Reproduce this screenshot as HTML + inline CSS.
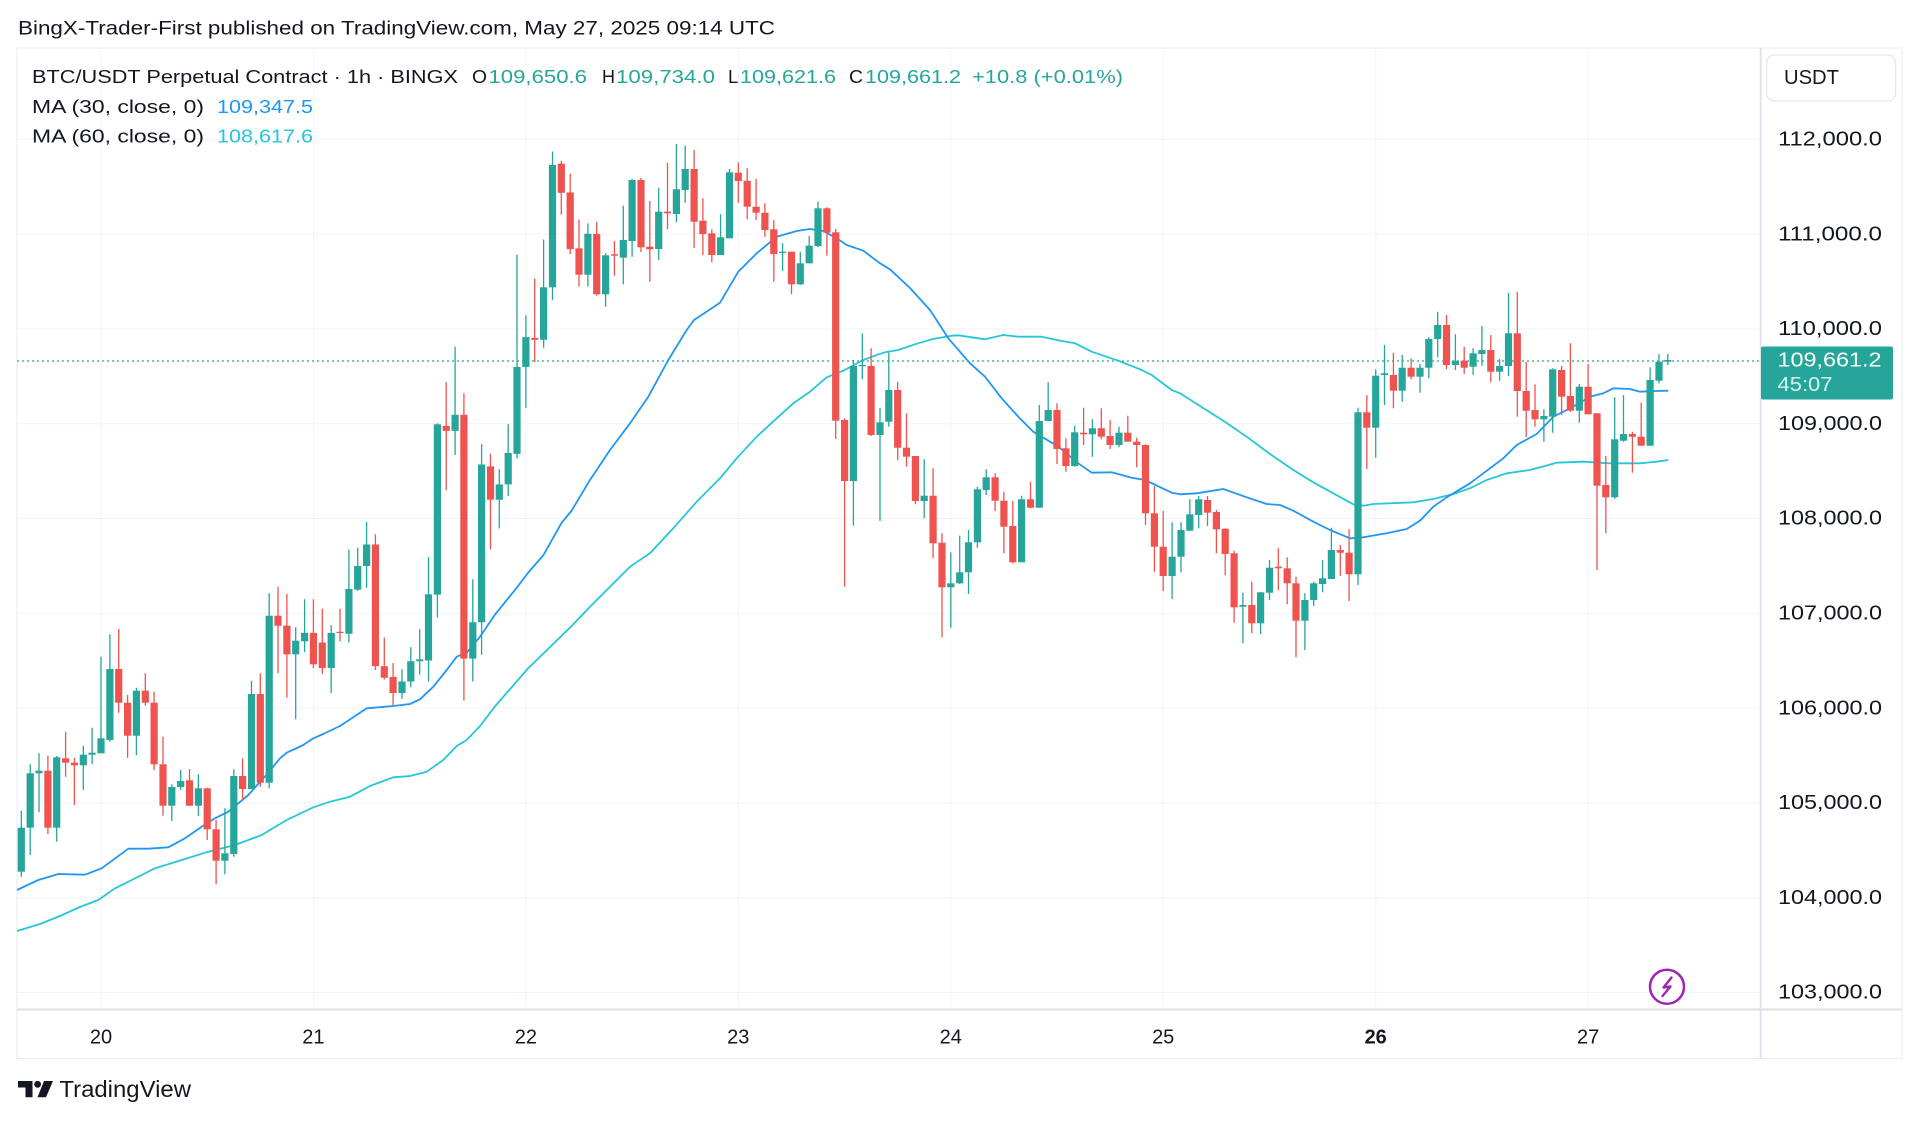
<!DOCTYPE html>
<html><head><meta charset="utf-8"><style>
html,body{margin:0;padding:0;background:#fff;}
svg{display:block;font-family:"Liberation Sans",Arial,sans-serif;}
</style></head><body>
<svg width="1920" height="1121" viewBox="0 0 1920 1121" xmlns="http://www.w3.org/2000/svg">
<rect width="1920" height="1121" fill="#fff"/>
<text x="18" y="34.3" font-size="19" fill="#131722" textLength="757" lengthAdjust="spacingAndGlyphs">BingX-Trader-First published on TradingView.com, May 27, 2025 09:14 UTC</text>
<g stroke="#f0f3fa" stroke-width="1">
<path d="M17 139.3H1760M17 234.1H1760M17 328.9H1760M17 423.7H1760M17 518.5H1760M17 613.3H1760M17 707.9H1760M17 802.9H1760M17 897.7H1760M17 992.5H1760"/>
<path d="M101 48V1009M313.4 48V1009M525.9 48V1009M738.3 48V1009M950.8 48V1009M1163.2 48V1009M1375.7 48V1009M1588.1 48V1009"/>
</g>
<rect x="17" y="48" width="1885" height="1010.5" fill="none" stroke="#e9ebf0" stroke-width="1"/>
<path d="M17 1009.5H1902" stroke="#dcdfe6" stroke-width="2"/>
<path d="M1760.7 48V1058.5" stroke="#e0e3eb" stroke-width="2"/>
<path d="M17 361H1760" stroke="#26a69a" stroke-width="1.3" stroke-dasharray="2 3"/>
<polyline fill="none" stroke="#26c6da" stroke-width="1.8" stroke-linejoin="round" points="17,931 40,924 60,916 80,907 98.3,900 115,888.3 131.7,880 155,868.3 181.7,860 208.3,851.7 235,845 261.7,835 286.7,820 313.3,807.3 330,801.7 350,796.7 370,786 393.3,777.3 410,776 426.7,771.7 443.3,760 456.7,746 466.7,740 480,726 495,706.4 528.3,668.1 571.7,626 590,606.7 610,586.7 630,566.7 650,553.3 673.3,528.3 696.7,501.7 720,478.3 736.7,458.3 756.7,436.7 776.7,418.3 793.3,403.3 810,391.7 826.7,377.3 843.3,370.7 863.3,360 876.7,355 885,352.3 898.3,350 915,344.3 931.7,339.3 951.7,335.7 958.3,335.3 985,339.3 1003.3,335 1018.3,336.7 1041.7,336.7 1061.7,341 1075,343.3 1091.7,351.7 1118.3,360.7 1141.7,370 1151.7,375 1171.7,390 1180,393.3 1200,406 1223.3,420.7 1246.7,436.7 1270,454 1293.3,470 1313.3,482.3 1333.3,493.3 1353.3,504.3 1363.3,505.7 1373.3,504 1413.3,502.3 1433.3,499 1453.3,494 1470,488.3 1486.7,480 1506.7,473.3 1530,470 1556.7,462.7 1583.3,461.7 1610,463.3 1640,463.3 1656.7,461.7 1668.3,460"/>
<polyline fill="none" stroke="#2196f3" stroke-width="1.8" stroke-linejoin="round" points="17,890 38.3,880 58.3,874 85,874.7 101.7,868.3 128.3,848.7 148.3,848.7 168.3,847.3 185,838.3 201.7,826.7 215,818.3 228.3,811.7 248.3,795 268.3,772.7 280,758.3 286.7,752.7 303.3,745 313.3,738.3 323.3,734 340,726 353.3,717.3 366.7,708.3 393.3,706 410,704 420,699.3 433.3,686.7 446.7,670 456.7,656.7 466.7,652.7 480,636.7 495,614.6 516.7,587.8 528.3,572.5 543.3,555.3 561.7,522.7 571.7,510.5 585,488.3 590,480 610,450 630,423.3 648.3,396.7 668.3,360 686.7,330 694,320 720,302.7 738.3,271.7 756.7,253.3 776.7,236.7 796.7,231 810,229 823.3,231 836.7,238.3 846.7,245 863.3,250.7 880,263.3 890,269.3 910,288 930,310 948.3,338.3 970,363.3 985,376.7 1001.7,398.3 1018.3,416.7 1033.3,431.7 1058.3,446.7 1078.3,463.3 1091.7,472.7 1111.7,472.3 1131.7,477.7 1145,480 1171.7,492.7 1180,494.3 1196.7,493.3 1223.3,489 1246.7,497.3 1266.7,504 1280,505 1293.3,510.7 1313.3,521.7 1330,530 1350,538.3 1363.3,537.3 1386.7,533.3 1406.7,529 1420,520.7 1433.3,506.7 1446.7,497.3 1470,483.3 1490,468.3 1503.3,458.3 1516.7,445 1536.7,434 1553.3,416.7 1566.7,410 1580,402.7 1590,396.7 1603.3,393.3 1613.3,388.3 1630,389 1640,391.7 1656.7,391 1668.3,390.7"/>
<path fill="none" stroke="#26a69a" stroke-width="1.3" d="M21.3 810.7V876.7M30.2 764.3V855M39 753.3V812.3M56.7 756V841.7M83.3 745.7V790M92.1 727.7V764M101 656.7V753.3M109.9 634.3V741.7M136.4 687.7V755M171.8 784.3V821M180.7 770V790M198.4 774.3V815.7M224.9 808.3V874.3M233.8 769.3V856.7M251.5 680.7V789M269.2 593.3V788.3M295.7 627.3V719.3M304.6 599.2V652.1M331.2 625.3V693M348.9 549.5V642.5M357.7 547.6V590.8M366.6 521.9V587.8M402 669.3V698.7M410.8 647.1V687.3M419.7 629.1V674.6M428.5 557.1V681.5M437.4 423.2V617.6M455.1 346.7V455M472.8 579.3V681.5M481.6 444.2V654.7M499.3 469.1V528.4M508.2 424.3V495.9M517 254.8V458.4M525.9 315.3V407.9M543.6 239.5V347.8M552.5 151.5V300M587.9 223.4V286.6M605.6 253.3V306.7M623.3 205.7V284.3M632.1 179V256.7M658.7 187.7V260M676.4 144V222.3M685.2 145.7V202.7M720.6 214.3V255M729.5 169V238.3M782.6 243.3V271M800.3 251.7V285M809.2 236V263.3M818 201.7V247.3M853.4 360V525.7M862.3 333.3V379.3M880 407.7V521M888.8 352.7V426.7M924.2 459.3V518.3M950.8 552.3V627.7M959.7 535.7V584M968.5 530V594M977.4 486.7V547.7M986.2 469.3V495M1021.6 495.7V562.3M1039.3 405V507.7M1048.2 382.3V421M1074.7 425.7V466.7M1092.4 419.3V456.7M1119 426.7V447.3M1172.1 522.3V599M1181 522.3V572.3M1189.8 499.3V530.7M1198.7 496V528.3M1242.9 592.7V643.3M1260.6 592.3V634M1269.5 560V600M1304.9 593.3V650M1313.7 581.7V606M1322.6 560V592.3M1331.4 527.7V579M1358 407.7V585M1375.7 369.3V457.7M1384.5 345V405M1402.2 355V401.7M1420 364V392.7M1428.8 337.3V378.3M1437.7 311.7V357.3M1455.4 334.3V370M1473.1 348.3V375M1481.9 326V365.7M1499.6 359V380.7M1508.5 292.7V376M1543.9 409.3V441.7M1552.7 368.3V432.7M1579.3 384V422.7M1614.7 397.3V499M1623.5 395V441.7M1650.1 367.3V445.7M1659 354V383.3M1667.8 354V365"/>
<path fill="none" stroke="#ef5350" stroke-width="1.3" d="M47.9 755.7V834.3M65.6 731.7V776.7M74.4 757.7V805M118.7 629V712.7M127.6 695V757.7M145.3 673.3V705.7M154.1 691.7V770M163 736.7V815.7M189.5 769V805.7M207.2 787.7V840M216.1 820V884.3M242.6 758.3V800M260.3 673.3V786.7M278 586.7V673.3M286.9 594V697.7M313.4 599.2V668.1M322.3 608.8V673.9M340 608.8V641.3M375.4 534.2V670M384.3 637.5V679.6M393.1 663.1V705.6M446.2 382.2V490.2M463.9 393.3V700.6M490.5 453.8V549.5M534.7 278.5V362M561.3 161V214.6M570.2 173.7V254M579 219.6V286.6M596.7 221.7V295.7M614.4 241V275.7M641 178V252M649.8 201V281.7M667.5 162.7V229.3M694.1 150V247.7M702.9 198.3V255M711.8 229.3V262.3M738.3 162.3V202.7M747.2 168.3V219.3M756.1 179V220M764.9 203.3V236.7M773.8 220V281.7M791.5 251.7V294.3M826.9 207.3V255.7M835.7 229V439M844.6 418.3V586.7M871.1 348.3V436M897.7 381.7V460M906.5 413.3V466.7M915.4 456V504.3M933.1 468.3V558.3M942 533.3V637.3M995.1 473.3V511M1003.9 491.7V553.3M1012.8 501V563.3M1030.5 481.7V508.3M1057 403.3V464M1065.9 438.3V471.7M1083.6 407.7V445M1101.3 408.3V439.3M1110.1 420V449M1127.8 415.7V441.7M1136.7 437.7V467.3M1145.5 444.3V525M1154.4 486V571.7M1163.2 511V591M1207.5 496V526M1216.4 510V553.3M1225.2 528.7V575.3M1234.1 550.7V622.7M1251.8 581.7V633.3M1278.3 548.3V590M1287.2 557.3V604.3M1296 576.7V657.3M1340.3 545V575.7M1349.1 529.3V601M1366.8 395V469M1393.4 352.7V408.3M1411.1 358.3V379.3M1446.5 315V369.3M1464.2 346.7V374M1490.8 335V382.3M1517.3 291.7V416.7M1526.2 361.7V437.3M1535 384.3V426.7M1561.6 366V415M1570.4 343.3V411.7M1588.1 364V414.3M1597 413.3V570M1605.8 456V533.3M1632.4 431.7V472.7M1641.2 402.7V445.7"/>
<g fill="#26a69a">
<rect x="17.7" y="827.7" width="7.2" height="44"/><rect x="26.6" y="773.3" width="7.2" height="54.4"/><rect x="35.4" y="770.7" width="7.2" height="2.6"/><rect x="53.1" y="757.3" width="7.2" height="70.4"/><rect x="79.7" y="754.7" width="7.2" height="10.6"/><rect x="88.5" y="752.7" width="7.2" height="2"/><rect x="97.4" y="738.3" width="7.2" height="15"/><rect x="106.3" y="669" width="7.2" height="71"/><rect x="132.8" y="690.7" width="7.2" height="45"/><rect x="168.2" y="787" width="7.2" height="18.7"/><rect x="177.1" y="781" width="7.2" height="6"/><rect x="194.8" y="788.3" width="7.2" height="17.4"/><rect x="221.3" y="853.3" width="7.2" height="7.4"/><rect x="230.2" y="776" width="7.2" height="78"/><rect x="247.9" y="694" width="7.2" height="95"/><rect x="265.6" y="615.7" width="7.2" height="167"/><rect x="292.1" y="640.7" width="7.2" height="13.6"/><rect x="301" y="632.9" width="7.2" height="8.4"/><rect x="327.6" y="632.9" width="7.2" height="35.2"/><rect x="345.3" y="588.9" width="7.2" height="44.8"/><rect x="354.1" y="566" width="7.2" height="23.7"/><rect x="363" y="544.5" width="7.2" height="21.5"/><rect x="398.4" y="681.5" width="7.2" height="11.5"/><rect x="407.2" y="661.2" width="7.2" height="20.3"/><rect x="416.1" y="659.3" width="7.2" height="1.9"/><rect x="424.9" y="594.3" width="7.2" height="66.2"/><rect x="433.8" y="424.3" width="7.2" height="170.3"/><rect x="451.5" y="414.8" width="7.2" height="16.1"/><rect x="469.2" y="622.2" width="7.2" height="36.4"/><rect x="478" y="464.5" width="7.2" height="157.7"/><rect x="495.7" y="484.4" width="7.2" height="15.3"/><rect x="504.6" y="453" width="7.2" height="31.4"/><rect x="513.4" y="366.9" width="7.2" height="86.9"/><rect x="522.3" y="337.1" width="7.2" height="29.8"/><rect x="540" y="287.3" width="7.2" height="52.5"/><rect x="548.9" y="164.9" width="7.2" height="122.4"/><rect x="584.3" y="233.8" width="7.2" height="40.9"/><rect x="602" y="255.3" width="7.2" height="39"/><rect x="619.7" y="240" width="7.2" height="17.7"/><rect x="628.5" y="180" width="7.2" height="61"/><rect x="655.1" y="211.7" width="7.2" height="37.3"/><rect x="672.8" y="189.3" width="7.2" height="24.7"/><rect x="681.6" y="169" width="7.2" height="21"/><rect x="717" y="237.3" width="7.2" height="17.7"/><rect x="725.9" y="172.3" width="7.2" height="66"/><rect x="779" y="251.7" width="7.2" height="1.2"/><rect x="796.7" y="263.3" width="7.2" height="21"/><rect x="805.6" y="245.7" width="7.2" height="17.6"/><rect x="814.4" y="208.3" width="7.2" height="37.7"/><rect x="849.8" y="366" width="7.2" height="115"/><rect x="858.7" y="365" width="7.2" height="1.2"/><rect x="876.4" y="422.3" width="7.2" height="12.7"/><rect x="885.2" y="390" width="7.2" height="31.7"/><rect x="920.6" y="495.7" width="7.2" height="5.3"/><rect x="947.2" y="583.3" width="7.2" height="4"/><rect x="956.1" y="572.3" width="7.2" height="11"/><rect x="964.9" y="542.3" width="7.2" height="30"/><rect x="973.8" y="489.3" width="7.2" height="53"/><rect x="982.6" y="477.3" width="7.2" height="12.7"/><rect x="1018" y="499.3" width="7.2" height="63"/><rect x="1035.7" y="421" width="7.2" height="86.7"/><rect x="1044.6" y="410" width="7.2" height="11"/><rect x="1071.1" y="432.3" width="7.2" height="33.7"/><rect x="1088.8" y="428.3" width="7.2" height="6"/><rect x="1115.4" y="432.7" width="7.2" height="12.3"/><rect x="1168.5" y="556.7" width="7.2" height="19.3"/><rect x="1177.4" y="530" width="7.2" height="26.7"/><rect x="1186.2" y="514.3" width="7.2" height="16.4"/><rect x="1195.1" y="499.3" width="7.2" height="15.7"/><rect x="1239.3" y="605" width="7.2" height="1.7"/><rect x="1257" y="592.3" width="7.2" height="31"/><rect x="1265.9" y="567.7" width="7.2" height="25"/><rect x="1301.3" y="600" width="7.2" height="20.7"/><rect x="1310.1" y="583.3" width="7.2" height="16.7"/><rect x="1319" y="578.3" width="7.2" height="5.7"/><rect x="1327.8" y="550" width="7.2" height="29"/><rect x="1354.4" y="412.3" width="7.2" height="162"/><rect x="1372.1" y="375.7" width="7.2" height="52"/><rect x="1380.9" y="373.3" width="7.2" height="1.7"/><rect x="1398.6" y="367.7" width="7.2" height="23"/><rect x="1416.4" y="367.7" width="7.2" height="9"/><rect x="1425.2" y="339" width="7.2" height="28.7"/><rect x="1434.1" y="325" width="7.2" height="14"/><rect x="1451.8" y="360.7" width="7.2" height="4.3"/><rect x="1469.5" y="353.3" width="7.2" height="13.4"/><rect x="1478.3" y="350" width="7.2" height="4"/><rect x="1496" y="366" width="7.2" height="5.7"/><rect x="1504.9" y="333.3" width="7.2" height="32.7"/><rect x="1540.3" y="416" width="7.2" height="3.3"/><rect x="1549.1" y="369.3" width="7.2" height="47.4"/><rect x="1575.7" y="386.7" width="7.2" height="24"/><rect x="1611.1" y="439.3" width="7.2" height="58"/><rect x="1619.9" y="434" width="7.2" height="6.7"/><rect x="1646.5" y="380" width="7.2" height="65.7"/><rect x="1655.4" y="361.7" width="7.2" height="19"/><rect x="1664.2" y="360" width="7.2" height="1.7"/>
</g>
<g fill="#ef5350">
<rect x="44.3" y="770.7" width="7.2" height="57"/><rect x="62" y="758.3" width="7.2" height="4.4"/><rect x="70.8" y="762.7" width="7.2" height="2.6"/><rect x="115.1" y="669" width="7.2" height="33.7"/><rect x="124" y="702.7" width="7.2" height="33"/><rect x="141.7" y="690.7" width="7.2" height="12"/><rect x="150.5" y="702.7" width="7.2" height="61.6"/><rect x="159.4" y="764.3" width="7.2" height="41.4"/><rect x="185.9" y="780.3" width="7.2" height="25.4"/><rect x="203.6" y="788.3" width="7.2" height="41"/><rect x="212.5" y="829.3" width="7.2" height="31.4"/><rect x="239" y="776" width="7.2" height="13"/><rect x="256.7" y="694" width="7.2" height="88.7"/><rect x="274.4" y="615.7" width="7.2" height="10"/><rect x="283.3" y="625.7" width="7.2" height="28.6"/><rect x="309.8" y="632.9" width="7.2" height="31.4"/><rect x="318.7" y="642.5" width="7.2" height="25.6"/><rect x="336.4" y="631.8" width="7.2" height="1.2"/><rect x="371.8" y="544.5" width="7.2" height="121.7"/><rect x="380.7" y="666.2" width="7.2" height="11.5"/><rect x="389.5" y="676.9" width="7.2" height="16.1"/><rect x="442.6" y="425.9" width="7.2" height="5"/><rect x="460.3" y="414.8" width="7.2" height="243.8"/><rect x="486.9" y="466.4" width="7.2" height="33.3"/><rect x="531.1" y="337.9" width="7.2" height="1.9"/><rect x="557.7" y="163.7" width="7.2" height="29.1"/><rect x="566.6" y="192.4" width="7.2" height="56.7"/><rect x="575.4" y="248.3" width="7.2" height="26.4"/><rect x="593.1" y="234" width="7.2" height="60.3"/><rect x="610.8" y="254.3" width="7.2" height="1.4"/><rect x="637.4" y="180" width="7.2" height="67.3"/><rect x="646.2" y="246.7" width="7.2" height="2.6"/><rect x="663.9" y="211.7" width="7.2" height="1.6"/><rect x="690.5" y="169" width="7.2" height="52.7"/><rect x="699.3" y="220.7" width="7.2" height="13.3"/><rect x="708.2" y="233.3" width="7.2" height="21.7"/><rect x="734.7" y="172.7" width="7.2" height="8.3"/><rect x="743.6" y="180.7" width="7.2" height="26"/><rect x="752.5" y="206.7" width="7.2" height="6"/><rect x="761.3" y="212.7" width="7.2" height="17.3"/><rect x="770.2" y="229.3" width="7.2" height="24.7"/><rect x="787.9" y="251.7" width="7.2" height="32.6"/><rect x="823.3" y="208.3" width="7.2" height="24.4"/><rect x="832.1" y="232.3" width="7.2" height="188.4"/><rect x="841" y="420" width="7.2" height="61"/><rect x="867.5" y="366" width="7.2" height="69"/><rect x="894.1" y="390" width="7.2" height="57.7"/><rect x="902.9" y="447.7" width="7.2" height="9"/><rect x="911.8" y="456" width="7.2" height="45"/><rect x="929.5" y="495.7" width="7.2" height="47.6"/><rect x="938.4" y="542.7" width="7.2" height="44.6"/><rect x="991.5" y="477.3" width="7.2" height="23.4"/><rect x="1000.3" y="500.7" width="7.2" height="26"/><rect x="1009.2" y="526" width="7.2" height="36.3"/><rect x="1026.9" y="499.3" width="7.2" height="8.4"/><rect x="1053.4" y="410" width="7.2" height="39"/><rect x="1062.3" y="448.3" width="7.2" height="17.7"/><rect x="1080" y="432.7" width="7.2" height="1.6"/><rect x="1097.7" y="428.3" width="7.2" height="8.4"/><rect x="1106.5" y="436" width="7.2" height="9"/><rect x="1124.2" y="432.7" width="7.2" height="9"/><rect x="1133.1" y="441.7" width="7.2" height="3.3"/><rect x="1141.9" y="445" width="7.2" height="68.3"/><rect x="1150.8" y="513.3" width="7.2" height="33.4"/><rect x="1159.6" y="546.7" width="7.2" height="29.3"/><rect x="1203.9" y="500" width="7.2" height="12.7"/><rect x="1212.8" y="512" width="7.2" height="17.3"/><rect x="1221.6" y="528.7" width="7.2" height="25.3"/><rect x="1230.5" y="553.3" width="7.2" height="54"/><rect x="1248.2" y="605" width="7.2" height="18.3"/><rect x="1274.7" y="566.7" width="7.2" height="1.6"/><rect x="1283.6" y="568.3" width="7.2" height="15"/><rect x="1292.4" y="583.3" width="7.2" height="37.4"/><rect x="1336.7" y="550" width="7.2" height="2.7"/><rect x="1345.5" y="552.7" width="7.2" height="21.6"/><rect x="1363.2" y="412.3" width="7.2" height="15.4"/><rect x="1389.8" y="375" width="7.2" height="15.7"/><rect x="1407.5" y="367.7" width="7.2" height="9"/><rect x="1442.9" y="325" width="7.2" height="40"/><rect x="1460.6" y="360.7" width="7.2" height="7"/><rect x="1487.2" y="350" width="7.2" height="21.7"/><rect x="1513.7" y="333.3" width="7.2" height="57.7"/><rect x="1522.6" y="391" width="7.2" height="19.7"/><rect x="1531.4" y="410" width="7.2" height="9.3"/><rect x="1558" y="370" width="7.2" height="26.7"/><rect x="1566.8" y="396" width="7.2" height="14.7"/><rect x="1584.5" y="386.7" width="7.2" height="27.6"/><rect x="1593.4" y="413.3" width="7.2" height="72.4"/><rect x="1602.2" y="485" width="7.2" height="12.3"/><rect x="1628.8" y="434" width="7.2" height="2.7"/><rect x="1637.6" y="436.7" width="7.2" height="9"/>
</g>
<g font-size="18.5">
<text x="32" y="83" fill="#131722" textLength="426" lengthAdjust="spacingAndGlyphs">BTC/USDT Perpetual Contract · 1h · BINGX</text>
<text x="472" y="83" fill="#131722" textLength="15" lengthAdjust="spacingAndGlyphs">O</text>
<text x="488.5" y="83" fill="#26a69a" textLength="98.5" lengthAdjust="spacingAndGlyphs">109,650.6</text>
<text x="602" y="83" fill="#131722" textLength="13" lengthAdjust="spacingAndGlyphs">H</text>
<text x="616" y="83" fill="#26a69a" textLength="99" lengthAdjust="spacingAndGlyphs">109,734.0</text>
<text x="728" y="83" fill="#131722">L</text>
<text x="740" y="83" fill="#26a69a" textLength="96" lengthAdjust="spacingAndGlyphs">109,621.6</text>
<text x="849" y="83" fill="#131722" textLength="14" lengthAdjust="spacingAndGlyphs">C</text>
<text x="865" y="83" fill="#26a69a" textLength="96" lengthAdjust="spacingAndGlyphs">109,661.2</text>
<text x="972" y="83" fill="#26a69a" textLength="151" lengthAdjust="spacingAndGlyphs">+10.8 (+0.01%)</text>
<text x="32" y="113" fill="#131722" textLength="172" lengthAdjust="spacingAndGlyphs">MA (30, close, 0)</text>
<text x="217" y="113" fill="#2196f3" textLength="96" lengthAdjust="spacingAndGlyphs">109,347.5</text>
<text x="32" y="142.5" fill="#131722" textLength="172" lengthAdjust="spacingAndGlyphs">MA (60, close, 0)</text>
<text x="217" y="142.5" fill="#26c6da" textLength="96" lengthAdjust="spacingAndGlyphs">108,617.6</text>
</g>
<rect x="1766.7" y="55" width="129" height="46" rx="8" ry="8" fill="#fff" stroke="#e0e3eb" stroke-width="1"/>
<text x="1784" y="84" font-size="20" fill="#131722" textLength="55" lengthAdjust="spacingAndGlyphs">USDT</text>
<g font-size="20" fill="#131722">
<text x="1778" y="145.5" textLength="104" lengthAdjust="spacingAndGlyphs">112,000.0</text>
<text x="1778" y="240.3" textLength="104" lengthAdjust="spacingAndGlyphs">111,000.0</text>
<text x="1778" y="335.1" textLength="104" lengthAdjust="spacingAndGlyphs">110,000.0</text>
<text x="1778" y="429.9" textLength="104" lengthAdjust="spacingAndGlyphs">109,000.0</text>
<text x="1778" y="524.7" textLength="104" lengthAdjust="spacingAndGlyphs">108,000.0</text>
<text x="1778" y="619.5" textLength="104" lengthAdjust="spacingAndGlyphs">107,000.0</text>
<text x="1778" y="714.3" textLength="104" lengthAdjust="spacingAndGlyphs">106,000.0</text>
<text x="1778" y="809.1" textLength="104" lengthAdjust="spacingAndGlyphs">105,000.0</text>
<text x="1778" y="903.9" textLength="104" lengthAdjust="spacingAndGlyphs">104,000.0</text>
<text x="1778" y="998.7" textLength="104" lengthAdjust="spacingAndGlyphs">103,000.0</text>
</g>
<rect x="1761" y="346.5" width="132" height="53" rx="2" fill="#26a69a"/>
<text x="1777.5" y="366.5" font-size="20" fill="#ffffff" textLength="104" lengthAdjust="spacingAndGlyphs">109,661.2</text>
<text x="1777.5" y="391" font-size="20" fill="#d6f1ee" textLength="55" lengthAdjust="spacingAndGlyphs">45:07</text>
<g font-size="20" fill="#131722" text-anchor="middle">
<text x="101" y="1043.3">20</text>
<text x="313.4" y="1043.3">21</text>
<text x="525.9" y="1043.3">22</text>
<text x="738.3" y="1043.3">23</text>
<text x="950.8" y="1043.3">24</text>
<text x="1163.2" y="1043.3">25</text>
<text x="1375.7" y="1043.3" font-weight="bold">26</text>
<text x="1588.1" y="1043.3">27</text>
</g>
<circle cx="1667" cy="986.7" r="17" fill="#fff" stroke="#9c27b0" stroke-width="2.5"/>
<path d="M1671.5 977.5L1663.5 987.5L1670.5 986.5L1662.5 996" fill="none" stroke="#9c27b0" stroke-width="2.4" stroke-linecap="round" stroke-linejoin="round"/>
<g fill="#131722">
<path d="M18 1081H32.5V1097.3H25.5V1087.5H18Z"/>
<circle cx="37.6" cy="1084.3" r="3.4"/>
<path d="M44 1081H53L46 1097.3H37.5Z"/>
</g>
<text x="59.4" y="1097" font-size="23" fill="#131722" textLength="131.6" lengthAdjust="spacingAndGlyphs">TradingView</text>
</svg>
</body></html>
